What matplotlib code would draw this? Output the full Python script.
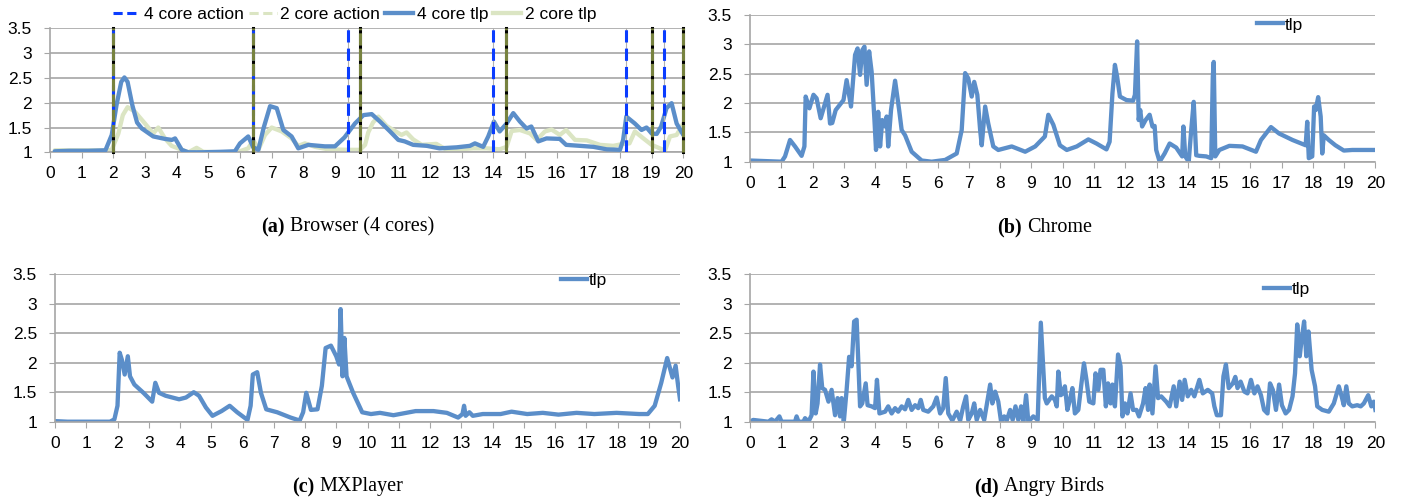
import matplotlib
matplotlib.use("Agg")
import matplotlib.pyplot as plt
from matplotlib.lines import Line2D

plt.rcParams['font.family'] = ['Liberation Sans Narrow', 'Liberation Sans', 'DejaVu Sans']

# ---- data ----
xticks = list(range(0, 21))
yticks = [1, 1.5, 2, 2.5, 3, 3.5]

# (a) Browser, 4 core / 2 core
a4_x = [0.15, 0.6, 1.2, 1.75, 1.95, 2.1, 2.25, 2.35, 2.45, 2.6, 2.75, 2.9, 3.26, 3.63, 3.85, 3.95, 4.16, 4.37,
        4.8, 5.4, 5.84, 6.0, 6.26, 6.42, 6.58, 6.75, 6.95, 7.16, 7.37, 7.63, 7.84, 8.16, 8.68, 9.0, 9.3, 9.63,
        9.9, 10.16, 10.42, 10.74, 11.0, 11.2, 11.47, 11.9, 12.3, 12.84, 13.26, 13.42, 13.68, 13.84, 14.02,
        14.2, 14.42, 14.63, 14.84, 15.05, 15.2, 15.42, 15.68, 16.1, 16.3, 16.74, 17.16, 17.58, 18.0, 18.1,
        18.2, 18.47, 18.68, 18.84, 19.0, 19.16, 19.3, 19.47, 19.63, 19.79, 20.0]
a4_y = [1.02, 1.03, 1.03, 1.04, 1.35, 1.95, 2.42, 2.51, 2.42, 1.95, 1.6, 1.48, 1.32, 1.27, 1.25, 1.28, 1.05, 1.0,
        1.0, 1.01, 1.02, 1.18, 1.32, 1.1, 1.05, 1.5, 1.93, 1.89, 1.45, 1.32, 1.08, 1.15, 1.12, 1.12, 1.3, 1.58,
        1.75, 1.77, 1.62, 1.42, 1.25, 1.22, 1.15, 1.13, 1.08, 1.1, 1.13, 1.18, 1.11, 1.32, 1.62,
        1.42, 1.58, 1.79, 1.62, 1.48, 1.52, 1.22, 1.28, 1.27, 1.15, 1.13, 1.11, 1.06, 1.05, 1.25,
        1.72, 1.58, 1.45, 1.5, 1.38, 1.37, 1.52, 1.89, 1.99, 1.58, 1.35]
a2_x = [0.15, 0.6, 1.2, 1.75, 1.95, 2.16, 2.3, 2.45, 2.68, 3.0, 3.26, 3.42, 3.63, 3.84, 4.16, 4.37, 4.63, 4.84,
        5.42, 5.95, 6.26, 6.42, 6.58, 6.79, 7.0, 7.32, 7.63, 7.84, 8.05, 8.37, 8.79, 9.42, 9.79, 9.95, 10.05,
        10.2, 10.37, 10.63, 10.84, 11.1, 11.26, 11.47, 11.74, 12.2, 12.5, 12.95, 13.37, 13.79, 14.2, 14.42,
        14.58, 14.84, 15.16, 15.37, 15.63, 15.84, 16.1, 16.3, 16.58, 16.95, 17.37, 17.79, 18.1, 18.3, 18.47,
        18.74, 19.0, 19.26, 19.42, 19.58, 19.79, 20.0]
a2_y = [1.04, 1.04, 1.04, 1.04, 1.05, 1.38, 1.75, 1.91, 1.82, 1.58, 1.38, 1.5, 1.28, 1.13, 1.05, 1.0, 1.09, 1.01,
        1.0, 1.01, 1.08, 1.25, 1.05, 1.35, 1.5, 1.42, 1.28, 1.13, 1.18, 1.11, 1.06, 1.05, 1.05, 1.15, 1.4,
        1.6, 1.72, 1.53, 1.45, 1.35, 1.4, 1.26, 1.15, 1.17, 1.06, 1.06, 1.08, 1.08, 1.06, 1.11,
        1.43, 1.45, 1.38, 1.25, 1.42, 1.46, 1.35, 1.45, 1.25, 1.24, 1.15, 1.13, 1.17, 1.18, 1.42,
        1.28, 1.15, 1.08, 1.03, 1.32, 1.35, 1.58]
act4 = [2.0, 6.4, 9.4, 14.0, 18.2, 19.4]
act2 = [2.0, 6.4, 9.8, 14.4, 19.0, 20.0]

# (b) Chrome
b_x = [0, 0.48, 1.01, 1.12, 1.28, 1.44, 1.65, 1.74, 1.78, 1.9, 2.03, 2.13, 2.26, 2.37, 2.48, 2.56, 2.63, 2.74,
       2.99, 3.09, 3.23, 3.36, 3.44, 3.52, 3.59, 3.66, 3.73, 3.81, 3.89, 3.98, 4.03, 4.1, 4.16, 4.23, 4.32,
       4.37, 4.42, 4.51, 4.64, 4.77, 4.85, 4.96, 5.17, 5.49, 5.81, 6.24, 6.61, 6.77, 6.88, 6.98, 7.09, 7.17,
       7.27, 7.36, 7.41, 7.52, 7.62, 7.78, 7.94, 8.37, 8.8, 9.12, 9.43, 9.54, 9.7, 9.91, 10.13, 10.45, 10.82,
       11.08, 11.4, 11.5, 11.59, 11.67, 11.74, 11.83, 12.04, 12.25, 12.31, 12.38, 12.43, 12.48, 12.54, 12.65,
       12.78, 12.87, 12.94, 12.99, 13.1, 13.26, 13.42, 13.63, 13.82, 13.86, 13.92, 14.03, 14.11, 14.19, 14.27,
       14.37, 14.59, 14.75, 14.8, 14.83, 14.88, 15.01, 15.33, 15.75, 16.18, 16.34, 16.66, 16.92, 17.35, 17.77,
       17.82, 17.87, 17.98, 18.04, 18.09, 18.17, 18.25, 18.3, 18.35, 18.51, 18.72, 18.99, 19.26, 20.0]
b_y = [1.02, 1.01, 1.0, 1.09, 1.37, 1.26, 1.1, 1.26, 2.11, 1.91, 2.14, 2.08, 1.74, 1.94, 2.14, 1.65, 1.66, 1.88,
       2.05, 2.39, 1.94, 2.82, 2.93, 2.48, 2.9, 2.96, 2.31, 2.88, 2.53, 1.71, 1.2, 1.85, 1.26, 1.71, 1.6,
       1.77, 1.26, 1.88, 2.38, 1.88, 1.54, 1.45, 1.17, 1.02, 1.0, 1.03, 1.14, 1.54, 2.51, 2.42, 2.11, 2.36,
       2.14, 1.54, 1.28, 1.94, 1.65, 1.26, 1.2, 1.26, 1.17, 1.26, 1.43, 1.8, 1.63, 1.28, 1.2, 1.26, 1.38,
       1.31, 1.21, 1.34, 2.16, 2.65, 2.45, 2.11, 2.05, 2.04, 2.14, 3.05, 1.71, 1.88, 1.6, 1.71,
       1.8, 1.6, 1.61, 1.2, 1.0, 1.14, 1.31, 1.24, 1.09, 1.6, 1.09, 1.0, 1.54, 2.02, 1.11,
       1.1, 1.09, 1.06, 2.45, 2.7, 1.09, 1.2, 1.27, 1.26, 1.17, 1.37, 1.59, 1.48, 1.37, 1.28,
       1.68, 1.06, 1.09, 1.94, 1.88, 2.1, 1.77, 1.14, 1.45, 1.37, 1.28, 1.19, 1.2, 1.2]

# (c) MXPlayer
c_x = [0, 0.4, 0.83, 1.76, 1.9, 2.0, 2.07, 2.14, 2.23, 2.33, 2.4, 2.54, 2.83, 3.11, 3.21, 3.33, 3.54, 3.97,
       4.19, 4.44, 4.61, 4.83, 5.04, 5.33, 5.59, 5.83, 6.16, 6.26, 6.33, 6.47, 6.59, 6.76, 7.11, 7.54, 7.83,
       7.94, 8.04, 8.19, 8.4, 8.54, 8.66, 8.83, 9.0, 9.09, 9.14, 9.2, 9.26, 9.33, 9.54, 9.83, 10.11, 10.4,
       10.83, 11.54, 12.11, 12.54, 12.9, 13.04, 13.09, 13.14, 13.26, 13.37, 13.69, 14.26, 14.61, 15.11, 15.61,
       16.11, 16.69, 17.26, 17.97, 18.69, 18.97, 19.19, 19.4, 19.59, 19.76, 19.86, 19.94, 20.0]
c_y = [1.01, 1.0, 1.0, 1.0, 1.04, 1.27, 2.17, 2.05, 1.8, 2.11, 1.77, 1.63, 1.49, 1.34, 1.66, 1.49, 1.44, 1.38,
       1.41, 1.5, 1.44, 1.24, 1.1, 1.18, 1.27, 1.16, 1.03, 1.27, 1.8, 1.84, 1.49, 1.21, 1.16, 1.07, 1.02,
       1.16, 1.49, 1.2, 1.21, 1.61, 2.25, 2.29, 2.11, 1.97, 2.91, 1.77, 2.42, 1.77, 1.49, 1.16, 1.13, 1.15,
       1.11, 1.18, 1.18, 1.15, 1.07, 1.13, 1.27, 1.1, 1.16, 1.1, 1.13, 1.13, 1.17, 1.13, 1.15,
       1.12, 1.15, 1.13, 1.15, 1.13, 1.13, 1.27, 1.66, 2.08, 1.75, 1.95, 1.61, 1.38]

# (d) Angry Birds
d_x = [0, 0.1, 0.59, 0.69, 0.8, 0.94, 1.01, 1.44, 1.49, 1.55, 1.71, 1.76, 1.87, 1.97, 2.03, 2.1, 2.16, 2.24,
       2.31, 2.4, 2.51, 2.61, 2.72, 2.8, 2.88, 2.93, 3.0, 3.09, 3.17, 3.25, 3.33, 3.41, 3.52, 3.59, 3.7, 3.76,
       3.89, 4.0, 4.06, 4.14, 4.32, 4.42, 4.53, 4.64, 4.74, 4.85, 4.96, 5.06, 5.17, 5.28, 5.38, 5.46, 5.54,
       5.7, 5.86, 5.97, 6.08, 6.18, 6.26, 6.34, 6.47, 6.61, 6.72, 6.82, 6.91, 6.98, 7.09, 7.17, 7.25, 7.36,
       7.49, 7.57, 7.68, 7.75, 7.84, 7.94, 8.03, 8.13, 8.21, 8.32, 8.4, 8.49, 8.58, 8.67, 8.74, 8.83, 8.9,
       9.06, 9.2, 9.3, 9.43, 9.49, 9.65, 9.75, 9.81, 9.86, 9.94,
       10.0, 10.07, 10.15, 10.23, 10.31, 10.39, 10.5, 10.6, 10.68, 10.76, 10.85, 10.98, 11.05, 11.14, 11.21,
       11.3, 11.38, 11.45, 11.53, 11.59, 11.67, 11.77, 11.85, 11.91, 11.99, 12.07, 12.17, 12.25, 12.36,
       12.44, 12.57, 12.65, 12.73, 12.78, 12.87, 12.97, 13.05, 13.15, 13.31, 13.42, 13.55, 13.63, 13.74,
       13.82, 13.9, 14.0, 14.11, 14.21, 14.37, 14.48, 14.64, 14.78, 14.85, 14.93, 15.06, 15.14, 15.22,
       15.31, 15.44, 15.52, 15.59, 15.69, 15.81, 15.91, 16.02, 16.13, 16.23, 16.34, 16.44, 16.55, 16.63,
       16.72, 16.82, 16.92, 17.01, 17.13, 17.24, 17.35, 17.43, 17.5, 17.58, 17.64, 17.72, 17.79, 17.86,
       17.96, 18.07, 18.14, 18.3, 18.51, 18.67, 18.83, 18.92, 18.99, 19.07, 19.15, 19.26, 19.42, 19.53,
       19.63, 19.77, 19.87, 19.95, 20.0]
d_y = [1.0, 1.03, 1.0, 1.04, 1.0, 1.09, 1.0, 1.0, 1.09, 1.0, 1.0, 1.06, 1.0, 1.11, 1.85, 1.14, 1.31, 1.97,
       1.57, 1.54, 1.34, 1.54, 1.11, 1.4, 1.09, 1.4, 1.0, 1.54, 2.1, 1.94, 2.7, 2.73, 1.26, 1.31, 1.65, 1.28,
       1.26, 1.23, 1.71, 1.14, 1.17, 1.26, 1.14, 1.23, 1.17, 1.26, 1.21, 1.37, 1.2, 1.28, 1.23, 1.37, 1.2,
       1.17, 1.26, 1.41, 1.14, 1.23, 1.74, 1.14, 1.02, 1.17, 1.02, 1.26, 1.43, 1.03, 1.14, 1.31, 1.03, 1.2,
       1.03, 1.28, 1.63, 1.31, 1.51, 1.34, 1.0, 1.09, 1.02, 1.2, 1.03, 1.26, 1.03, 1.26, 1.0, 1.45, 1.0,
       1.09, 1.03, 2.68, 1.4, 1.31, 1.43, 1.37, 1.26, 1.85, 1.45,
       1.48, 1.6, 1.2, 1.37, 1.57, 1.14, 1.2, 1.65, 1.99, 1.71, 1.34, 1.31, 1.82, 1.54, 1.88,
       1.88, 1.26, 1.65, 1.31, 1.63, 1.26, 2.14, 1.94, 1.09, 1.31, 1.14, 1.48, 1.2, 1.2,
       1.09, 1.31, 1.57, 1.2, 1.63, 1.14, 1.94, 1.4, 1.43, 1.34, 1.26, 1.6, 1.26, 1.68,
       1.37, 1.71, 1.43, 1.54, 1.43, 1.71, 1.48, 1.54, 1.48, 1.26, 1.11, 1.11, 1.77, 1.97,
       1.57, 1.65, 1.76, 1.57, 1.68, 1.51, 1.48, 1.71, 1.48, 1.6, 1.45, 1.2, 1.14, 1.65,
       1.54, 1.2, 1.63, 1.28, 1.14, 1.2, 1.43, 1.82, 2.65, 2.11, 2.39, 2.7, 2.11, 2.53,
       1.88, 1.6, 1.26, 1.2, 1.17, 1.31, 1.6, 1.43, 1.28, 1.6, 1.31, 1.26, 1.28, 1.26,
       1.31, 1.45, 1.26, 1.34, 1.2]

BLUE = '#5b8ec9'
GREEN = '#dbe5c3'
GRID = '#a6a6a6'
LW = 3.1
W, H = 1403, 497


def px_axes(fig, left, right, top, bottom):
    return fig.add_axes([left / W, 1 - bottom / H, (right - left) / W, (bottom - top) / H])


def style(ax):
    ax.set_xlim(0, 20)
    ax.set_ylim(1, 3.5)
    ax.set_xticks(xticks)
    ax.set_xticklabels([str(t) for t in xticks])
    ax.set_yticks(yticks)
    ax.set_yticklabels(['1', '1.5', '2', '2.5', '3', '3.5'])
    ax.grid(axis='y', color=GRID, lw=1.2)
    ax.set_axisbelow(True)
    for s in ['top', 'right']:
        ax.spines[s].set_visible(False)
    for s in ['left', 'bottom']:
        ax.spines[s].set_color(GRID)
        ax.spines[s].set_linewidth(1.2)
    ax.tick_params(axis='x', length=4, color=GRID, labelsize=12.5, pad=6)
    ax.tick_params(axis='y', length=4, color=GRID, labelsize=12.5, pad=9)


def tlp_legend(ax, x, y):
    ax.legend(loc='center left', bbox_to_anchor=(x, y), frameon=False, fontsize=12.5,
              handlelength=1.5, handletextpad=0.1, borderpad=0, borderaxespad=0)


fig = plt.figure(figsize=(W / 100, H / 100), dpi=100)

# (a)
ax = px_axes(fig, 50, 683.3, 28.3, 152.3)
style(ax)
ax.plot(a4_x, a4_y, color=BLUE, lw=LW, solid_joinstyle='round', solid_capstyle='round', zorder=3)
ax.plot(a2_x, a2_y, color=GREEN, lw=LW, solid_joinstyle='round', solid_capstyle='round', zorder=2)
for v in act4:
    ax.axvline(v, color='#b0b0b0', lw=0.8, zorder=4)
    ax.axvline(v, color='#0a3cff', lw=2.2, dashes=(4, 2), zorder=5)
for v in act2:
    ax.axvline(v, color='black', lw=2.2, zorder=4, clip_on=False)
    ax.axvline(v, color='#77823f', lw=2.2, dashes=(4, 1.0), zorder=5, clip_on=False)
handles = [Line2D([], [], color='#0a3cff', lw=2.2, dashes=(3, 1.5)),
           Line2D([], [], color=GREEN, lw=2.2, dashes=(3, 1.5)),
           Line2D([], [], color=BLUE, lw=LW),
           Line2D([], [], color=GREEN, lw=LW)]
ax.legend(handles, ['4 core action', '2 core action', '4 core tlp', '2 core tlp'],
          loc='center left', bbox_to_anchor=(0.099, 1.115), ncol=4, frameon=False,
          fontsize=12.5, handlelength=1.6, handletextpad=0.2, columnspacing=0.3,
          borderpad=0, borderaxespad=0)

# (b)
ax = px_axes(fig, 750, 1375.4, 15, 161.7)
style(ax)
ax.plot(b_x, b_y, color=BLUE, lw=LW, solid_joinstyle='round', label='tlp')
tlp_legend(ax, 0.81, 0.932)

# (c)
ax = px_axes(fig, 55, 680, 274.3, 421.7)
style(ax)
ax.plot(c_x, c_y, color=BLUE, lw=LW, solid_joinstyle='round', label='tlp')
tlp_legend(ax, 0.809, 0.96)

# (d)
ax = px_axes(fig, 750, 1375.4, 274.3, 421.7)
style(ax)
ax.plot(d_x, d_y, color=BLUE, lw=LW, solid_joinstyle='round', label='tlp')
tlp_legend(ax, 0.822, 0.896)

# captions
caps = [(285, 227, '(a)', 'Browser (4 cores)'),
        (1022, 227, '(b)', 'Chrome'),
        (314, 487, '(c)', 'MXPlayer'),
        (999, 487, '(d)', 'Angry Birds')]
for x, y, lab, name in caps:
    fig.text(x / W, 1 - y / H, lab, ha='right', va='center', fontsize=14.5,
             family='Liberation Serif', weight='bold')
    fig.text((x + 5) / W, 1 - y / H, name, ha='left', va='center', fontsize=14.5,
             family='Liberation Serif')

fig.savefig('out.png', dpi=100)
